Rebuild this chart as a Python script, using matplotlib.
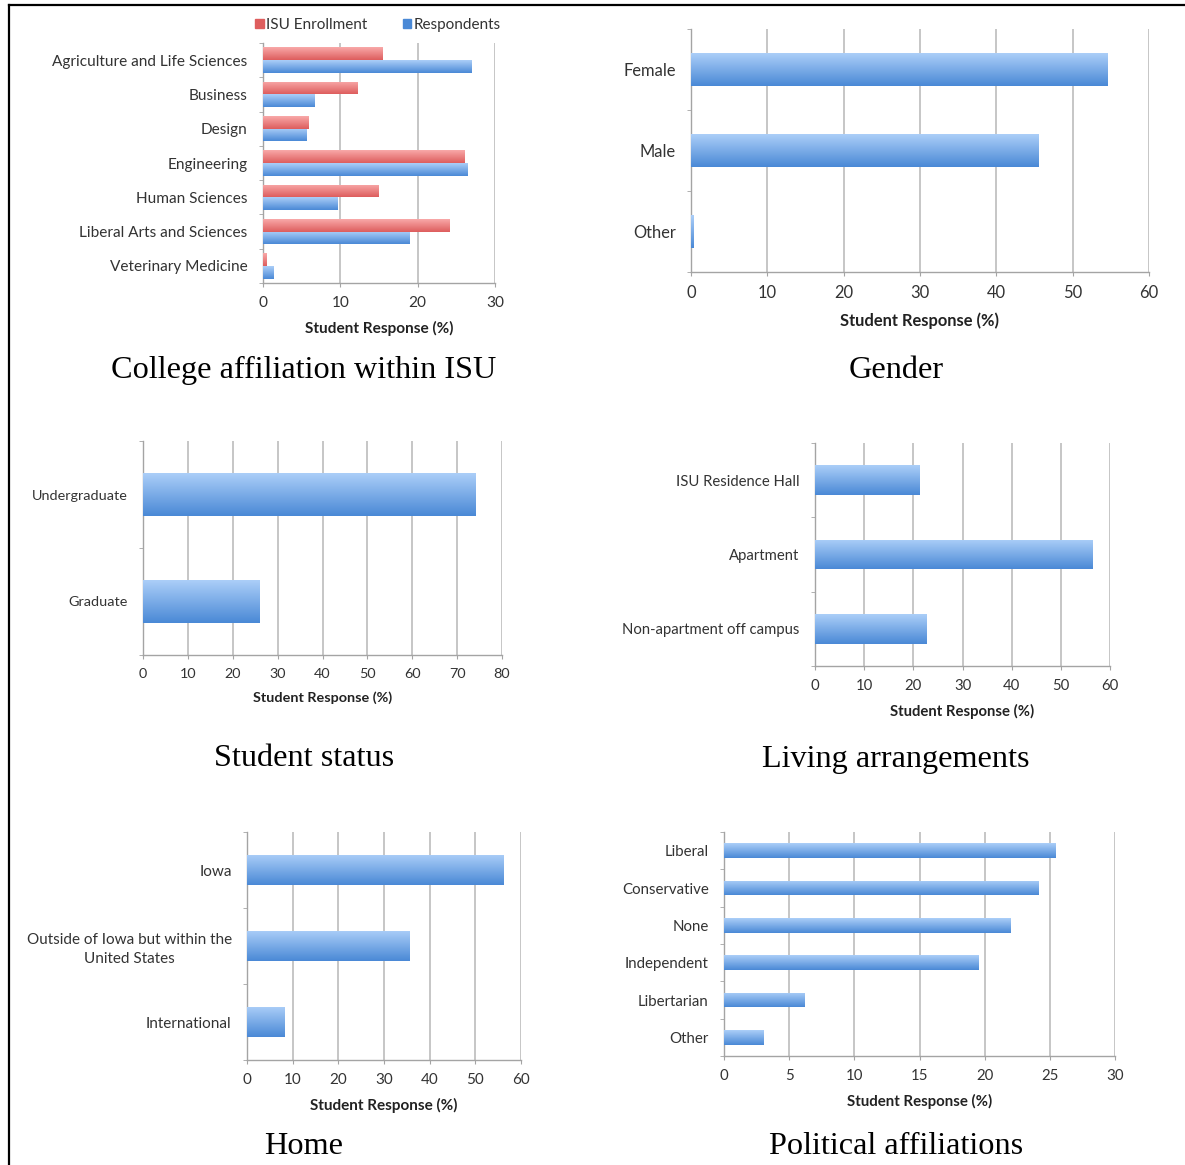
import numpy as np
import matplotlib
matplotlib.use('Agg')
import matplotlib.pyplot as plt
from matplotlib.colors import to_rgb
from matplotlib.lines import Line2D
from matplotlib.patches import Patch

plt.rcParams['font.family'] = ['Lato', 'DejaVu Sans']

# ---- data (percent of student responses) ----
college_labels = ['Agriculture and Life Sciences', 'Business', 'Design', 'Engineering',
                  'Human Sciences', 'Liberal Arts and Sciences', 'Veterinary Medicine']
college_enrollment = [15.5, 12.2, 5.9, 26.0, 15.0, 24.1, 0.4]
college_respondents = [26.9, 6.7, 5.6, 26.4, 9.6, 19.0, 1.4]

gender_labels = ['Female', 'Male', 'Other']
gender_values = [54.5, 45.5, 0.3]

status_labels = ['Undergraduate', 'Graduate']
status_values = [74.1, 25.9]

living_labels = ['ISU Residence Hall', 'Apartment', 'Non-apartment off campus']
living_values = [21.3, 56.5, 22.6]

home_labels = ['Iowa', 'Outside of Iowa but within the\nUnited States', 'International']
home_values = [56.2, 35.6, 8.3]

politics_labels = ['Liberal', 'Conservative', 'None', 'Independent', 'Libertarian', 'Other']
politics_values = [25.4, 24.1, 22.0, 19.5, 6.2, 3.0]

W, H = 1185, 1165
BLUE = ('#abcef8', '#4a89d6')
RED = ('#f8a9a9', '#de5d5d')
GRID = '#c6c6c6'
AXIS = '#a4a4a4'
TXT = '#333333'

fig = plt.figure(figsize=(W / 100, H / 100), dpi=100)


def px_axes(left, top, right, bottom):
    return fig.add_axes([left / W, 1 - bottom / H, (right - left) / W, (bottom - top) / H])


def grad_bar(ax, y, w, h, colors):
    top, bot = np.array(to_rgb(colors[0])), np.array(to_rgb(colors[1]))
    t = np.linspace(0, 1, 64)[:, None]
    arr = (bot * (1 - t) + top * t)[:, None, :]
    bar = ax.barh(y, w, height=h, color=colors[1], lw=0, zorder=3)[0]
    img = ax.imshow(arr, extent=[0, w, y - h / 2, y + h / 2], origin='lower',
                    aspect='auto', zorder=3.5, interpolation='bilinear')
    img.set_clip_path(bar)


def style(ax, labels, xmax, step, fs):
    n = len(labels)
    ax.set_xlim(0, xmax)
    ax.set_ylim(-0.5, n - 0.5)
    ax.set_xticks(np.arange(0, xmax + step / 2, step))
    ax.set_yticks(np.arange(n))
    ax.set_yticklabels(labels[::-1], fontsize=fs, color=TXT, linespacing=1.45,
                       multialignment='center')
    ax.set_yticks(np.arange(n + 1) - 0.5, minor=True)
    ax.tick_params(axis='y', which='major', length=0, pad=11)
    ax.tick_params(axis='y', which='minor', length=3, color=AXIS, direction='out')
    ax.tick_params(axis='x', length=3, color=AXIS, direction='out', pad=6.5,
                   labelsize=fs, labelcolor=TXT)
    ax.grid(axis='x', color=GRID, lw=1.4, zorder=0)
    ax.set_axisbelow(True)
    for s in ('top', 'right'):
        ax.spines[s].set_visible(False)
    for s in ('left', 'bottom'):
        ax.spines[s].set_color(AXIS)
        ax.spines[s].set_linewidth(1.0)
    ax.set_xlabel('Student Response (%)', fontsize=fs, fontweight='bold',
                  color='#222222', labelpad=8)


def simple(box, labels, values, xmax, step, fs):
    ax = px_axes(*box)
    n = len(labels)
    for i, v in enumerate(values):
        grad_bar(ax, n - 1 - i, v, 0.4, BLUE)
    style(ax, labels, xmax, step, fs)
    return ax


# college affiliation (grouped)
ax1 = px_axes(263, 43, 495, 283)
n = len(college_labels)
bw = 0.37
for i in range(n):
    yc = n - 1 - i
    grad_bar(ax1, yc + bw / 2, college_enrollment[i], bw, RED)
    grad_bar(ax1, yc - bw / 2, college_respondents[i], bw, BLUE)
style(ax1, college_labels, 30, 10, 11.1)
fig.legend([Patch(color=RED[1]), Patch(color=BLUE[1])], ['ISU Enrollment', 'Respondents'],
           loc='center', bbox_to_anchor=(378 / W, 1 - 25 / H), ncol=2, frameon=False,
           handlelength=0.55, handleheight=0.55, handletextpad=0.15, columnspacing=2.35,
           fontsize=11, labelcolor=TXT)

simple((691, 29, 1149, 272), gender_labels, gender_values, 60, 10, 11.9)
simple((143, 441, 502, 655), status_labels, status_values, 80, 10, 10.4)
simple((815, 443, 1110, 666), living_labels, living_values, 60, 10, 10.7)
simple((247, 832, 521, 1060), home_labels, home_values, 60, 10, 11)
simple((724, 832, 1115, 1056), politics_labels, politics_values, 30, 5, 10.8)

titles = [('College affiliation within ISU', 304, 370), ('Gender', 896, 370),
          ('Student status', 304, 759), ('Living arrangements', 896, 759),
          ('Home', 304, 1147), ('Political affiliations', 896, 1147)]
for txt, x, y in titles:
    fig.text(x / W, 1 - y / H, txt, ha='center', va='center',
             family='Liberation Serif', fontsize=23.2, color='black')

# page frame
fig.add_artist(Line2D([9 / W, 1], [1 - 5 / H, 1 - 5 / H], color='black', lw=1.6))
fig.add_artist(Line2D([9 / W, 9 / W], [0, 1 - 5 / H], color='black', lw=1.6))

fig.savefig('out.png', dpi=100, facecolor='white')
